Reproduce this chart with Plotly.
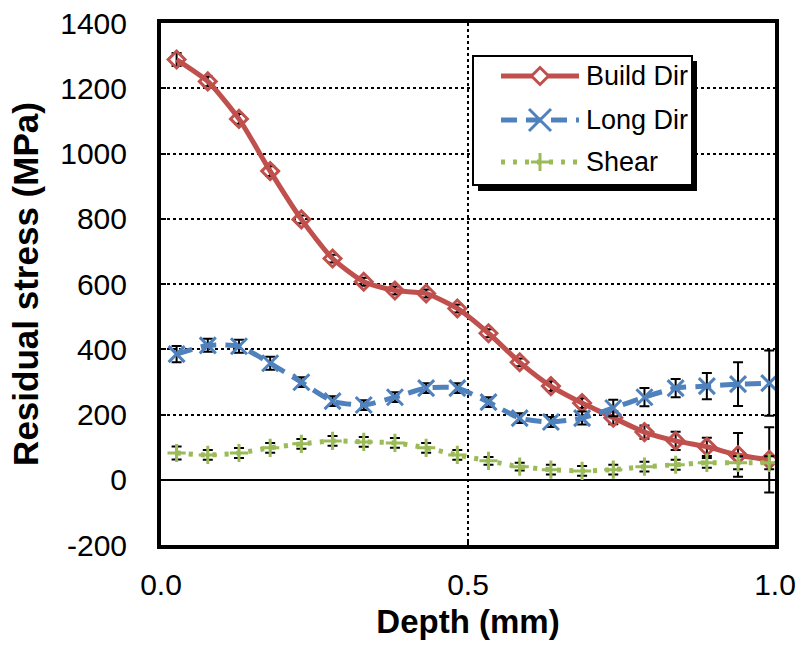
import plotly.graph_objects as go

depth = [0.0254 * (2 * i + 1) for i in range(20)]

build_dir = [1288, 1221, 1106, 946, 798, 678, 607, 580, 571, 525,
             449, 360, 287, 235, 190, 146, 119, 101, 76, 61]
build_err = [20, 15, 15, 15, 12, 12, 12, 12, 12, 12,
             12, 12, 15, 15, 20, 20, 28, 28, 67, 100]

long_dir = [385, 412, 409, 357, 299, 241, 229, 253, 281, 281,
            238, 189, 177, 189, 220, 253, 281, 287, 293, 296]
long_err = [25, 20, 20, 20, 15, 15, 15, 15, 15, 15,
            15, 15, 15, 20, 25, 28, 28, 40, 67, 100]

shear = [82, 76, 82, 98, 110, 119, 116, 113, 98, 76,
         58, 40, 31, 27, 31, 40, 46, 52, 52, 52]
shear_err = [20, 15, 15, 15, 15, 15, 15, 15, 15, 15,
             12, 12, 15, 15, 15, 15, 15, 15, 20, 20]

y_ticks = [-200, 0, 200, 400, 600, 800, 1000, 1200, 1400]
y_ticktext = ["-200", "0", "200", "400", "600", "800", "1000", "1200", "1400"]
x_ticks = [0, 0.5, 1]
x_ticktext = ["0.0", "0.5", "1.0"]

FONT = "Liberation Sans, Arial, sans-serif"
RED, BLUE, GREEN = "#C0504D", "#4F81BD", "#9BBB59"
BLUE_DASH = "16px,9px"
GREEN_DASH = "4px,8px"

# plot area geometry in pixels (for the hand-drawn legend)
L, R, T, B = 161, 775, 23, 545
W, H = R - L, B - T


def px(x):
    return (x - L) / W


def py(y):
    return (B - y) / H


fig = go.Figure()


def add(name, y, err, color, dash, symbol, msize):
    fig.add_trace(go.Scatter(
        x=depth, y=y, name=name, mode="lines+markers", showlegend=False,
        line=dict(color=color, width=5, dash=dash, shape="spline", smoothing=0.6),
        marker=dict(symbol=symbol, size=msize, color=color,
                    line=dict(color=color, width=3)),
        error_y=dict(type="data", array=err, visible=True,
                     color="black", thickness=2, width=5),
    ))


add("Build Dir", build_dir, build_err, RED, "solid", "diamond-open", 13)
add("Long Dir", long_dir, long_err, BLUE, BLUE_DASH, "x-thin-open", 16)
add("Shear", shear, shear_err, GREEN, GREEN_DASH, "cross-thin-open", 13)

shapes = []
# legend shadow and box
shapes.append(dict(type="rect", xref="paper", yref="paper",
                   x0=px(478), x1=px(697), y0=py(191), y1=py(61),
                   fillcolor="black", line=dict(width=0), layer="above"))
shapes.append(dict(type="rect", xref="paper", yref="paper",
                   x0=px(473), x1=px(692), y0=py(185), y1=py(56),
                   fillcolor="white", line=dict(color="black", width=2), layer="above"))

legend_rows = [("Build Dir", RED, "solid", 76), ("Long Dir", BLUE, BLUE_DASH, 120),
               ("Shear", GREEN, GREEN_DASH, 162)]
annotations = []
for name, color, dash, yy in legend_rows:
    shapes.append(dict(type="line", xref="paper", yref="paper",
                       x0=px(501), x1=px(579), y0=py(yy), y1=py(yy),
                       line=dict(color=color, width=5, dash=dash), layer="above"))
    annotations.append(dict(text=name, xref="paper", yref="paper", x=px(584), y=py(yy),
                            xanchor="left", yanchor="middle", showarrow=False,
                            font=dict(size=27, family=FONT, color="black")))

cx = 540
# diamond marker (Build Dir)
d = 8.5
yy = legend_rows[0][3]
shapes.append(dict(type="path", xref="paper", yref="paper",
                   path=f"M{px(cx - d)},{py(yy)} L{px(cx)},{py(yy - d)} L{px(cx + d)},{py(yy)} "
                        f"L{px(cx)},{py(yy + d)} Z",
                   fillcolor="white", line=dict(color=RED, width=3), layer="above"))
# x marker (Long Dir)
d = 11
yy = legend_rows[1][3]
shapes.append(dict(type="path", xref="paper", yref="paper",
                   path=f"M{px(cx - d)},{py(yy - d)} L{px(cx + d)},{py(yy + d)} "
                        f"M{px(cx - d)},{py(yy + d)} L{px(cx + d)},{py(yy - d)}",
                   line=dict(color=BLUE, width=3), layer="above"))
# cross marker (Shear)
d = 9
yy = legend_rows[2][3]
shapes.append(dict(type="path", xref="paper", yref="paper",
                   path=f"M{px(cx - d)},{py(yy)} L{px(cx + d)},{py(yy)} "
                        f"M{px(cx)},{py(yy - d)} L{px(cx)},{py(yy + d)}",
                   line=dict(color=GREEN, width=3), layer="above"))

fig.update_layout(
    width=800, height=647,
    margin=dict(l=L, r=800 - R, t=T, b=647 - B),
    paper_bgcolor="white", plot_bgcolor="white",
    font=dict(family=FONT, color="black"),
    showlegend=False,
    shapes=shapes,
    annotations=annotations,
    xaxis=dict(range=[0, 1], tickvals=x_ticks, ticktext=x_ticktext, automargin=False,
               showgrid=True, gridcolor="black", gridwidth=1.5, griddash="dot",
               zeroline=False, showline=True, linecolor="black", linewidth=4, mirror=True,
               ticks="inside", ticklen=5, tickcolor="black", tickwidth=1.5,
               ticklabelstandoff=10,
               tickfont=dict(size=30, family=FONT),
               title=dict(text="<b>Depth (mm)</b>", font=dict(size=33, family=FONT), standoff=11)),
    yaxis=dict(range=[-200, 1400], tickvals=y_ticks, ticktext=y_ticktext, automargin=False,
               showgrid=True, gridcolor="black", gridwidth=2, griddash="dot",
               zeroline=True, zerolinecolor="black", zerolinewidth=2,
               showline=True, linecolor="black", linewidth=4, mirror=True,
               ticks="inside", ticklen=5, tickcolor="black", tickwidth=1.5,
               ticklabelstandoff=24,
               tickfont=dict(size=30, family=FONT),
               title=dict(text="<b>Residual stress (MPa)</b>", font=dict(size=35, family=FONT), standoff=12)),
)

fig.write_html("out.html")
